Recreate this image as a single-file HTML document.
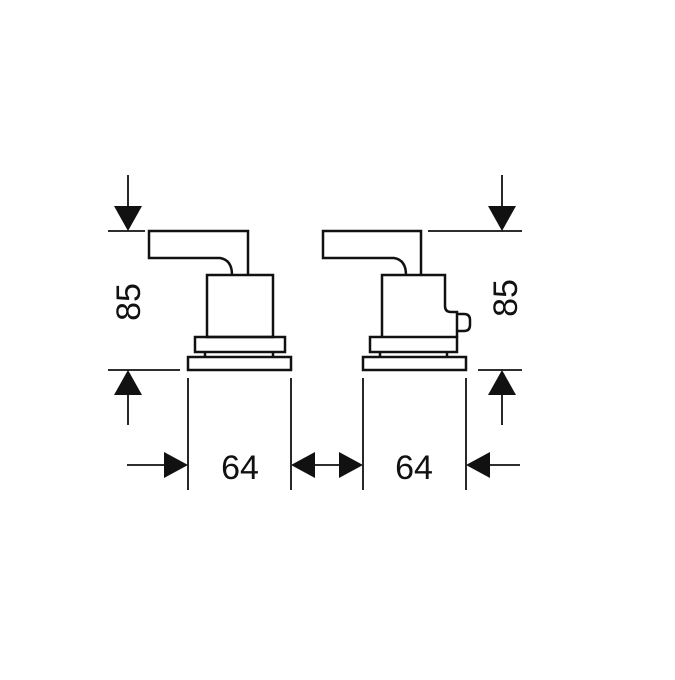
<!DOCTYPE html>
<html><head><style>html,body{margin:0;padding:0;background:#fff}</style></head><body>
<svg width="675" height="675" viewBox="0 0 675 675" xmlns="http://www.w3.org/2000/svg">
<g fill="none" stroke="#111" stroke-width="2.5" stroke-linejoin="miter">
<!-- Left valve -->
<path d="M248,275 V231 H149 V258 H220 Q232,260 232,275"/>
<rect x="207" y="275" width="66" height="62"/>
<rect x="195" y="337" width="90" height="15"/>
<path d="M205,352 V357 M273,352 V357"/>
<rect x="188" y="357" width="103" height="13"/>
<!-- Right valve -->
<path d="M421,275 V231 H323 V258 H394 Q406,260 406,275"/>
<path d="M382,337 V275 H445 V306 Q445,312 451,312 H457 V337"/>
<path d="M457,314 H464 Q470,314 470,320 V325 Q470,331 464,331 H457"/>
<rect x="370" y="337" width="87" height="15"/>
<path d="M380,352 V357 M447,352 V357"/>
<rect x="363" y="357" width="103" height="13"/>
</g>
<g stroke="#111" stroke-width="1.8" fill="none">
<path d="M128,175 V208 M108,231 H145 M108,370 H180 M128,393 V425"/>
<path d="M428,231 H522 M502,175 V208 M478,370 H522 M502,393 V425"/>
<path d="M188,378 V490 M291,378 V490 M363,378 V490 M466,378 V490"/>
<path d="M127,465 H168 M315,465 H340 M520,465 H488"/>
</g>
<g fill="#111">
<polygon points="114,206 142,206 128,231"/>
<polygon points="114,395 142,395 128,370"/>
<polygon points="488,206 516,206 502,231"/>
<polygon points="488,395 516,395 502,370"/>
<polygon points="164,452 164,478 188,465"/>
<polygon points="315,452 315,478 291,465"/>
<polygon points="339,452 339,478 363,465"/>
<polygon points="490,452 490,478 466,465"/>
</g>
<g font-family="'Liberation Sans', sans-serif" font-size="34" fill="#111" text-anchor="middle">
<text x="240" y="479">64</text>
<text x="414" y="479">64</text>
<text transform="translate(140,302) rotate(-90)">85</text>
<text transform="translate(517,298) rotate(-90)">85</text>
</g>
</svg>
</body></html>
